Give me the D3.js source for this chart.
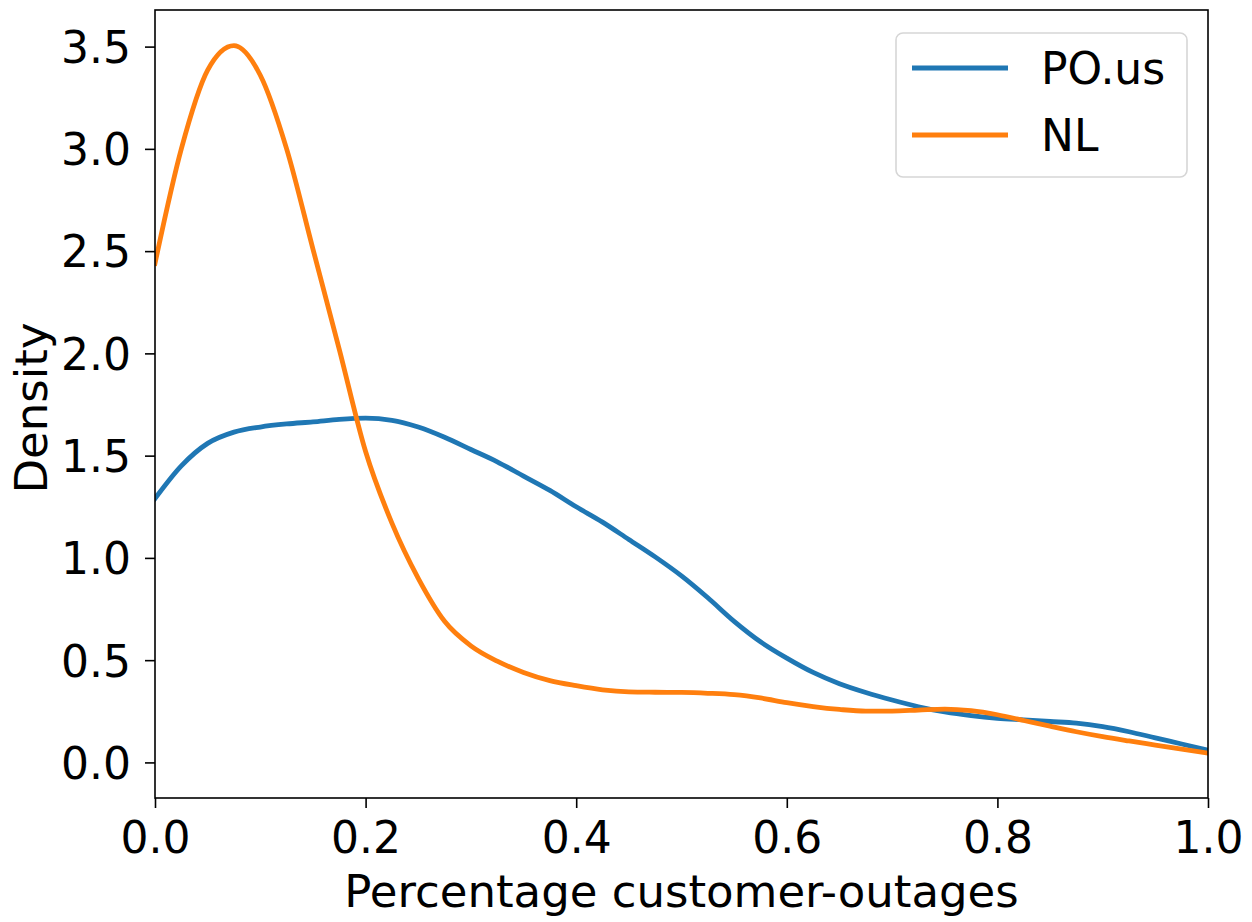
<!DOCTYPE html>
<html>
<head>
<meta charset="utf-8">
<script src="https://cdn.jsdelivr.net/npm/d3@7"></script>
<style>
  body { margin: 0; background: #fff; }
  svg text { font-family: "DejaVu Sans", sans-serif; fill: #000; }
</style>
</head>
<body>
<svg id="chart" width="1252" height="922"></svg>
<script>
// KDE curves, one reading every 0.025
const gridX = [0, 0.025, 0.05, 0.075, 0.1, 0.125, 0.15, 0.175, 0.2, 0.225,
	0.25, 0.275, 0.3, 0.325, 0.35, 0.375, 0.4, 0.425, 0.45, 0.475,
	0.5, 0.525, 0.55, 0.575, 0.6, 0.625, 0.65, 0.675, 0.7, 0.725,
	0.75, 0.775, 0.8, 0.825, 0.85, 0.875, 0.9, 0.925, 0.95, 0.975, 1.0];

const poY = [1.29, 1.45, 1.56, 1.615, 1.64, 1.655, 1.665, 1.677, 1.683, 1.673,
	1.64, 1.59, 1.53, 1.47, 1.40, 1.33, 1.25, 1.175, 1.09, 1.005,
	0.912, 0.805, 0.69, 0.59, 0.51, 0.44, 0.385, 0.342, 0.305, 0.272,
	0.247, 0.229, 0.216, 0.208, 0.2, 0.192, 0.175, 0.15, 0.12, 0.09, 0.06];

const nlY = [2.44, 3.0, 3.385, 3.505, 3.36, 3.0, 2.51, 2.02, 1.52, 1.17,
	0.9, 0.69, 0.57, 0.495, 0.44, 0.40, 0.375, 0.355, 0.345, 0.343,
	0.342, 0.338, 0.331, 0.315, 0.292, 0.273, 0.259, 0.251, 0.251, 0.256,
	0.261, 0.253, 0.233, 0.205, 0.177, 0.15, 0.126, 0.105, 0.085, 0.065, 0.045];

const seriesNames = ["PO.us", "NL"];
const seriesColors = ["#1f77b4", "#ff7f0e"];
const xTicks = [0, 0.2, 0.4, 0.6, 0.8, 1.0];
const yTicks = [0, 0.5, 1.0, 1.5, 2.0, 2.5, 3.0, 3.5];

const plotL = 155, plotR = 1208, plotT = 10, plotB = 798;

var svg = d3.select("#chart");

var x = d3.scaleLinear().domain([0, 1]).range([plotL, plotR]);
var y = d3.scaleLinear().domain([-0.174, 3.679]).range([plotB, plotT]);

const series = [
	{ name: seriesNames[0], color: seriesColors[0], pts: gridX.map((v, i) => [v, poY[i]]) },
	{ name: seriesNames[1], color: seriesColors[1], pts: gridX.map((v, i) => [v, nlY[i]]) },
];

var line = d3.line()
	.x(d => x(d[0]))
	.y(d => y(d[1]))
	.curve(d3.curveMonotoneX);

svg.append("clipPath").attr("id", "clip")
	.append("rect")
	.attr("x", plotL).attr("y", plotT)
	.attr("width", plotR - plotL).attr("height", plotB - plotT);

svg.append("g").attr("clip-path", "url(#clip)")
	.selectAll("path")
	.data(series)
	.enter()
	.append("path")
	.attr("d", d => line(d.pts))
	.attr("fill", "none")
	.attr("stroke", d => d.color)
	.attr("stroke-width", 4.8)
	.attr("stroke-linecap", "square");

// axes
var xAxis = svg.append("g")
	.attr("transform", "translate(0," + plotB + ")")
	.call(d3.axisBottom(x).tickValues(xTicks).tickFormat(d3.format(".1f")).tickSize(10).tickPadding(8).tickSizeOuter(0));
var yAxis = svg.append("g")
	.attr("transform", "translate(" + plotL + ",0)")
	.call(d3.axisLeft(y).tickValues(yTicks).tickFormat(d3.format(".1f")).tickSize(10).tickPadding(14).tickSizeOuter(0));

[xAxis, yAxis].forEach(a => {
	a.select(".domain").remove();
	a.selectAll(".tick line").attr("stroke", "#000").attr("stroke-width", 1.6);
	a.selectAll(".tick text").style("font-size", "44px").attr("fill", "#000");
});
xAxis.selectAll(".tick text").attr("dy", null).attr("y", 55);
yAxis.selectAll(".tick text").attr("dy", "0.36em");

// frame
svg.append("rect")
	.attr("x", plotL).attr("y", plotT)
	.attr("width", plotR - plotL).attr("height", plotB - plotT)
	.attr("fill", "none")
	.attr("stroke", "#000")
	.attr("stroke-width", 1.6);

// axis labels
svg.append("text")
	.attr("x", (plotL + plotR) / 2)
	.attr("y", 907)
	.attr("text-anchor", "middle")
	.style("font-size", "45px")
	.text("Percentage customer-outages");

svg.append("text")
	.attr("transform", "translate(47,408) rotate(-90)")
	.attr("text-anchor", "middle")
	.style("font-size", "45px")
	.text("Density");

// legend
var legend = svg.append("g");
legend.append("rect")
	.attr("x", 896).attr("y", 33)
	.attr("width", 291).attr("height", 144)
	.attr("rx", 7)
	.attr("fill", "#fff")
	.attr("fill-opacity", 0.8)
	.attr("stroke", "#d6d6d6")
	.attr("stroke-width", 1.6);

var items = legend.selectAll(".item")
	.data(series)
	.enter()
	.append("g")
	.attr("class", "item")
	.attr("transform", (d, i) => "translate(0," + (68 + i * 67) + ")");
items.append("line")
	.attr("x1", 912).attr("x2", 1008)
	.attr("stroke", d => d.color)
	.attr("stroke-width", 4.8);
items.append("text")
	.attr("x", 1041)
	.attr("y", 15.5)
	.style("font-size", "44px")
	.text(d => d.name);
</script>
</body>
</html>
